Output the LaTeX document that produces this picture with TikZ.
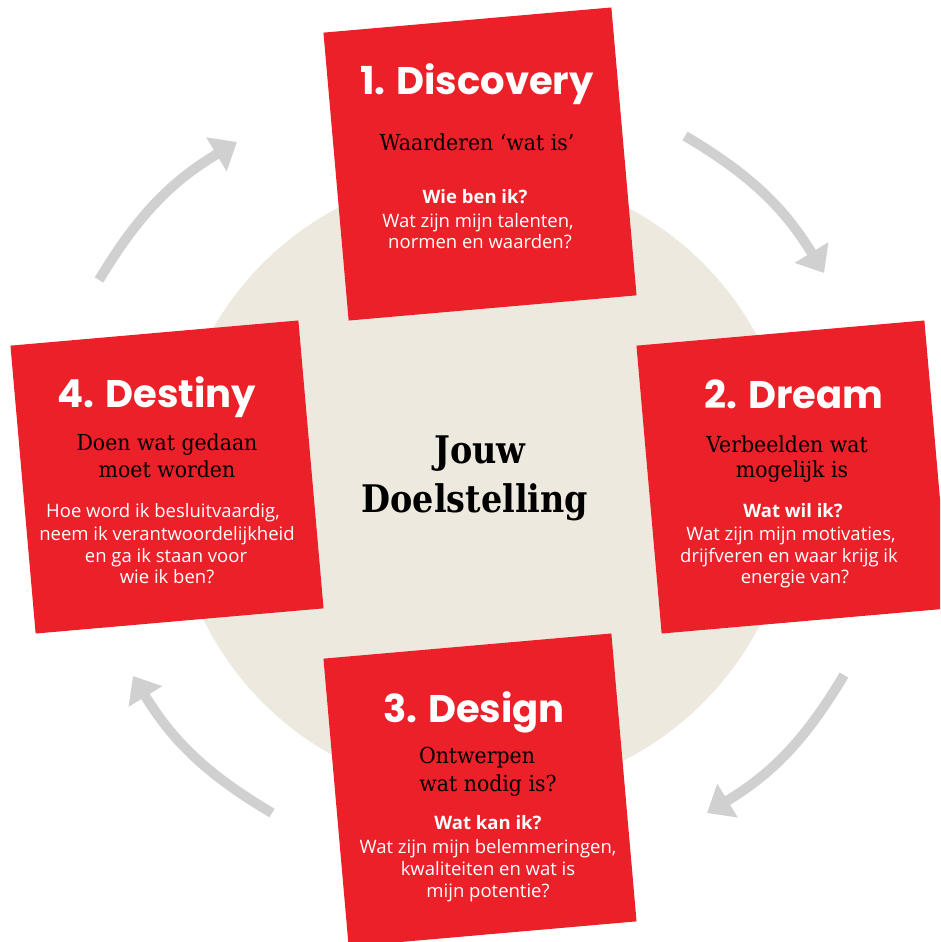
\documentclass[tikz,border=0pt]{standalone}
\usepackage{fontspec}
\usetikzlibrary{arrows.meta}
\newfontfamily\titlefont{Poppins}
\newfontfamily\slabfont{DejaVu Serif}[FakeStretch=0.93]
\newfontfamily\slabboldfont{DejaVu Serif}[FakeStretch=0.88]
\newfontfamily\bodyfont{Open Sans}
\definecolor{boxred}{HTML}{EC2029}
\definecolor{beige}{HTML}{EDE9DF}
\definecolor{arrowgray}{HTML}{D0D0D0}
\tikzset{
  redbox/.style={fill=boxred, draw=none, minimum size=289pt, inner sep=0pt, rotate=5},
  ttl/.style={anchor=base, inner sep=0pt, text=white, font=\titlefont\bfseries\fontsize{38.5}{44}\selectfont},
  sub/.style={anchor=base, inner sep=0pt, text=black, font=\slabfont\fontsize{22}{26}\selectfont},
  qst/.style={anchor=base, inner sep=0pt, text=white, font=\bodyfont\bfseries\fontsize{18.5}{22}\selectfont},
  bdy/.style={anchor=base, inner sep=0pt, text=white, font=\bodyfont\fontsize{18.5}{22}\selectfont},
  ctr/.style={anchor=base, inner sep=0pt, text=black, font=\slabboldfont\bfseries\fontsize{38}{44}\selectfont},
  cyc/.style={draw=arrowgray, line width=10pt, -{Triangle[length=24pt, width=38pt]}, bend left=14}
}
\begin{document}
\begin{tikzpicture}[x=1pt, y=1pt]
\useasboundingbox (0,0) rectangle (940,-942);
\clip (0,0) rectangle (940,-942);
\fill[white] (0,0) rectangle (940,-942);
% central disc
\node[circle, fill=beige, minimum size=622pt, inner sep=0pt] (goal) at (483,-483) {};
% cycle arrows
\coordinate (a1s) at (99,-280);  \coordinate (a1e) at (237,-142);
\coordinate (a2s) at (685,-136); \coordinate (a2e) at (824,-273);
\coordinate (a3s) at (844,-675); \coordinate (a3e) at (707,-813);
\coordinate (a4s) at (272,-813); \coordinate (a4e) at (133,-676);
\draw[cyc] (a1s) to (a1e);
\draw[cyc] (a2s) to (a2e);
\draw[cyc] (a3s) to (a3e);
\draw[cyc] (a4s) to (a4e);
% boxes
\node[redbox] (b1) at (480,-164) {};
\node[redbox] (b2) at (793,-477) {};
\node[redbox] (b3) at (480,-790) {};
\node[redbox] (b4) at (167,-477) {};
% centre text
\node[ctr] (c1) at (480,-463) {Jouw};
\node[ctr] (c2) at (475,-512) {Doelstelling};
% box 1
\node[ttl] (t1) at (477,-94) {1. Discovery};
\node[sub] (s1) at (477,-150) {Waarderen ‘wat is’};
\node[qst] (q1) at (475,-203) {Wie ben ik?};
\node[bdy] (d1a) at (478,-227) {Wat zijn mijn talenten,};
\node[bdy] (d1b) at (480,-248) {normen en waarden?};
% box 2
\node[ttl] (t2) at (794,-408) {2. Dream};
\node[sub] (s2a) at (787,-452) {Verbeelden wat};
\node[sub] (s2b) at (792,-477) {mogelijk is};
\node[qst] (q2) at (793,-517) {Wat wil ik?};
\node[bdy] (d2a) at (791,-540) {Wat zijn mijn motivaties,};
\node[bdy] (d2b) at (789,-562) {drijfveren en waar krijg ik};
\node[bdy] (d2c) at (795,-583) {energie van?};
% box 3
\node[ttl] (t3) at (474,-722) {3. Design};
\node[sub] (s3a) at (477,-763) {Ontwerpen};
\node[sub] (s3b) at (488,-791) {wat nodig is?};
\node[qst] (q3) at (488,-829) {Wat kan ik?};
\node[bdy] (d3a) at (488,-853) {Wat zijn mijn belemmeringen,};
\node[bdy] (d3b) at (488,-875) {kwaliteiten en wat is};
\node[bdy] (d3c) at (488,-897) {mijn potentie?};
% box 4
\node[ttl] (t4) at (157,-407) {4. Destiny};
\node[sub] (s4a) at (167,-450) {Doen wat gedaan};
\node[sub] (s4b) at (167,-477) {moet worden};
\node[bdy] (d4a) at (163,-517) {Hoe word ik besluitvaardig,};
\node[bdy] (d4b) at (167,-540) {neem ik verantwoordelijkheid};
\node[bdy] (d4c) at (166,-562) {en ga ik staan voor};
\node[bdy] (d4d) at (167,-583) {wie ik ben?};
\end{tikzpicture}
\end{document}
